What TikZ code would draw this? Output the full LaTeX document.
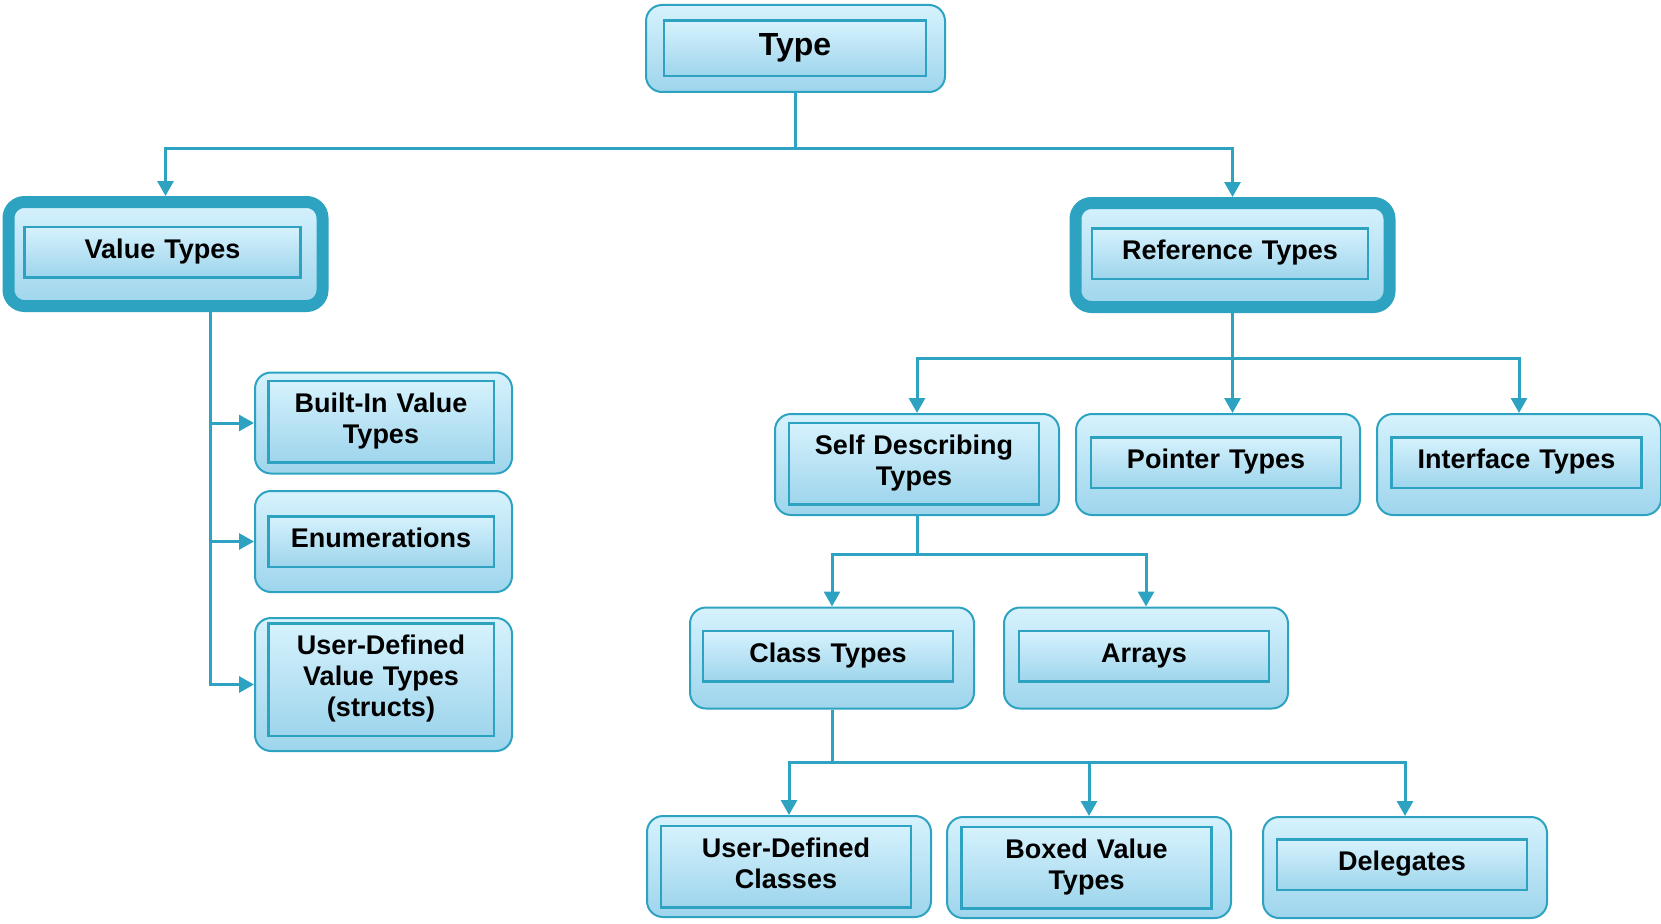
\documentclass[tikz,border=0pt]{standalone}
\usepackage{fontspec}
\setmainfont{Liberation Sans}
\usetikzlibrary{arrows.meta}

\definecolor{typeline}{RGB}{46,163,193}
\definecolor{boxtop}{RGB}{214,242,253}
\definecolor{boxbottom}{RGB}{158,213,236}

\newcommand\labelfont{\fontsize{27}{31}\selectfont\bfseries}
\newcommand\rootfont{\fontsize{32}{36}\selectfont\bfseries}

\tikzset{
  typebox/.style={draw=typeline, line width=2pt, rounded corners=16pt,
    top color=boxtop, bottom color=boxbottom,
    minimum width=284pt, minimum height=101pt, inner sep=0pt},
  basebox/.style={typebox, line width=12pt, minimum width=314pt, minimum height=104pt},
  labelbox/.style={draw=typeline, line width=2.5pt,
    top color=boxtop, bottom color=boxbottom,
    text width=#1, align=center, inner xsep=0pt, inner ysep=9.75pt,
    font=\labelfont, execute at begin node=\strut, execute at end node=\strut},
  labelbox/.default=250pt,
  link/.style={draw=typeline, line width=3pt, -{Triangle[length=15pt,width=16pt]}}
}

\begin{document}
\begin{tikzpicture}[x=1pt,y=-1pt]
\useasboundingbox (0,0) rectangle (1661,923);

% outer boxes
\node[typebox, minimum width=299pt, minimum height=87pt] (type) at (795.5,48.5) {};
\node[basebox] (value) at (165.5,254) {};
\node[basebox] (reference) at (1232.5,255) {};
\node[typebox, minimum width=257pt] (builtin) at (383.5,423) {};
\node[typebox, minimum width=257pt] (enums) at (383.5,541.5) {};
\node[typebox, minimum width=257pt, minimum height=133pt] (structs) at (383.5,684.5) {};
\node[typebox] (selfdesc) at (917,464.5) {};
\node[typebox] (pointer) at (1218,464.5) {};
\node[typebox] (interface) at (1519,464.5) {};
\node[typebox] (class) at (832,658) {};
\node[typebox] (arrays) at (1146,658) {};
\node[typebox] (userclass) at (789,866.5) {};
\node[typebox] (boxed) at (1089,867.5) {};
\node[typebox] (delegates) at (1405,867.5) {};

% labels
\node[labelbox=262pt, font=\rootfont] (type-l) at ([xshift=-0.5pt]type.center) {Type};
\node[labelbox=276pt] (value-l) at ([xshift=-3pt,yshift=2pt]value.center) {Value Types};
\node[labelbox=276pt] (reference-l) at ([xshift=-2.5pt,yshift=1.5pt]reference.center) {Reference Types};
\node[labelbox=225.5pt] (builtin-l) at ([xshift=-2.5pt,yshift=1.5pt]builtin.center) {Built-In Value\\Types};
\node[labelbox=225.5pt] (enums-l) at ([xshift=-2.5pt]enums.center) {Enumerations};
\node[labelbox=225.5pt] (structs-l) at ([xshift=-2.5pt,yshift=5pt]structs.center) {User-Defined\\Value Types\\(structs)};
\node[labelbox] (selfdesc-l) at ([xshift=-3pt,yshift=1pt]selfdesc.center) {Self Describing\\Types};
\node[labelbox] (pointer-l) at ([xshift=-2pt,yshift=2pt]pointer.center) {Pointer Types};
\node[labelbox] (interface-l) at ([xshift=-2.5pt,yshift=2pt]interface.center) {Interface Types};
\node[labelbox] (class-l) at ([xshift=-4pt,yshift=2pt]class.center) {Class Types};
\node[labelbox] (arrays-l) at ([xshift=-2pt,yshift=2pt]arrays.center) {Arrays};
\node[labelbox] (userclass-l) at ([xshift=-3pt]userclass.center) {User-Defined\\Classes};
\node[labelbox] (boxed-l) at ([xshift=-2.5pt]boxed.center) {Boxed Value\\Types};
\node[labelbox] (delegates-l) at ([xshift=-3pt,yshift=3pt]delegates.center) {Delegates};

% connectors
\draw[link] (type.south) -- ++(0,55) -| (value.north);
\draw[link] (type.south) -- ++(0,55) -| (reference.north);

\draw[link] ([xshift=45pt]value.south) |- (builtin.west);
\draw[link] ([xshift=45pt]value.south) |- (enums.west);
\draw[link] ([xshift=45pt]value.south) |- (structs.west);

\draw[link] (reference.south) -- ++(0,45) -| (selfdesc.north);
\draw[link] (reference.south) -- (reference.south |- pointer.north);
\draw[link] (reference.south) -- ++(0,45) -| (interface.north);

\draw[link] (selfdesc.south) -- ++(0,38) -| (class.north);
\draw[link] (selfdesc.south) -- ++(0,38) -| (arrays.north);

\draw[link] (class.south) -- ++(0,53) -| (userclass.north);
\draw[link] (class.south) -- ++(0,53) -| (boxed.north);
\draw[link] (class.south) -- ++(0,53) -| (delegates.north);
\end{tikzpicture}
\end{document}
